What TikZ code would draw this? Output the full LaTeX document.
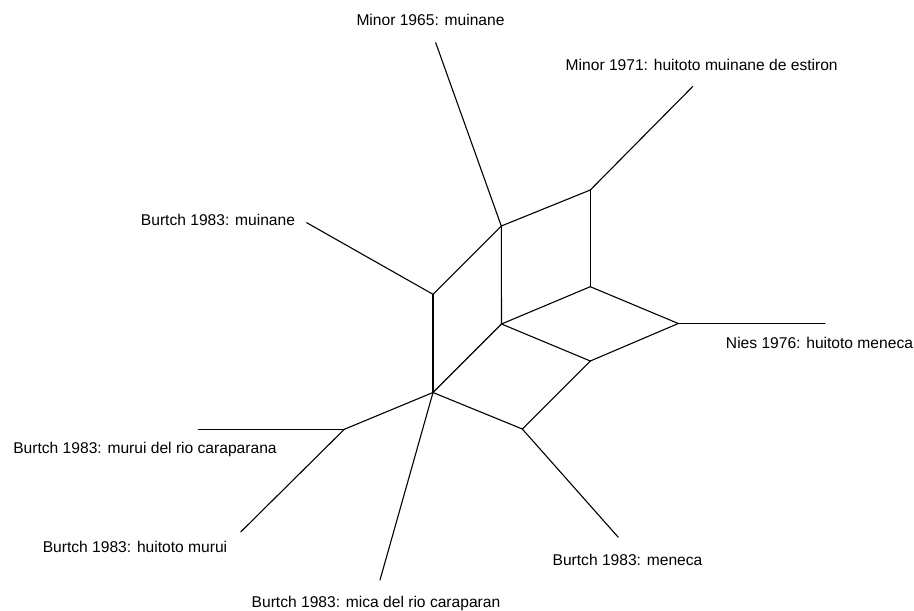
\documentclass[tikz,border=0pt]{standalone}
\usepackage{fontspec}
\setmainfont{Liberation Sans}
\begin{document}
\begin{tikzpicture}[x=1pt,y=-1pt,
  edge/.style={line width=1.1pt,line cap=round,line join=round},
  lab/.style={inner sep=0pt,anchor=base,font=\fontsize{15.6}{18}\selectfont}]
\useasboundingbox (0,0) rectangle (914,611);
% internal vertices
\coordinate (A) at (501.3,226);
\coordinate (B) at (590.3,190);
\coordinate (C) at (590.3,286.7);
\coordinate (D) at (501.5,324);
\coordinate (E) at (678.3,323.5);
\coordinate (F) at (590.3,361);
\coordinate (G) at (433,294.3);
\coordinate (H) at (433,392.5);
\coordinate (I) at (522.3,429);
\coordinate (J) at (344.3,429.3);
% leaf ends
\coordinate (l1965) at (435.7,42.7);
\coordinate (l1971) at (692.7,86.5);
\coordinate (lmuin) at (306.7,222.7);
\coordinate (lnies) at (825,323.5);
\coordinate (lmurui) at (198.3,429.3);
\coordinate (lhmurui) at (240.7,532);
\coordinate (lmica) at (380,580);
\coordinate (lmeneca) at (618.3,537.3);
% labels
\node[lab] (t1965) at (430.5,25.5) {Minor 1965: muinane};
\node[lab] (t1971) at (701.7,70.5) {Minor 1971: huitoto muinane de estiron};
\node[lab] (tmuin) at (218,225.5) {Burtch 1983: muinane};
\node[lab] (tnies) at (819.5,348.8) {Nies 1976: huitoto meneca};
\node[lab] (tmurui) at (145,453.8) {Burtch 1983: murui del rio caraparana};
\node[lab] (thmurui) at (135,552.2) {Burtch 1983: huitoto murui};
\node[lab] (tmeneca) at (627.5,565.5) {Burtch 1983: meneca};
\node[lab] (tmica) at (376,607.5) {Burtch 1983: mica del rio caraparan};
% edges
\draw[edge] (A) -- (l1965);
\draw[edge] (A) -- (B);
\draw[edge] (A) -- (D);
\draw[edge] (A) -- (G);
\draw[edge] (B) -- (l1971);
\draw[edge] (B) -- (C);
\draw[edge] (C) -- (D);
\draw[edge] (C) -- (E);
\draw[edge] (E) -- (lnies);
\draw[edge] (E) -- (F);
\draw[edge] (D) -- (F);
\draw[edge] (D) -- (H);
\draw[edge] (F) -- (I);
\draw[edge] (I) -- (lmeneca);
\draw[edge] (I) -- (H);
\draw[edge] (G) -- (H);
\draw[edge] (G) -- (lmuin);
\draw[edge] (H) -- (J);
\draw[edge] (H) -- (lmica);
\draw[edge] (J) -- (lmurui);
\draw[edge] (J) -- (lhmurui);
\end{tikzpicture}
\end{document}
